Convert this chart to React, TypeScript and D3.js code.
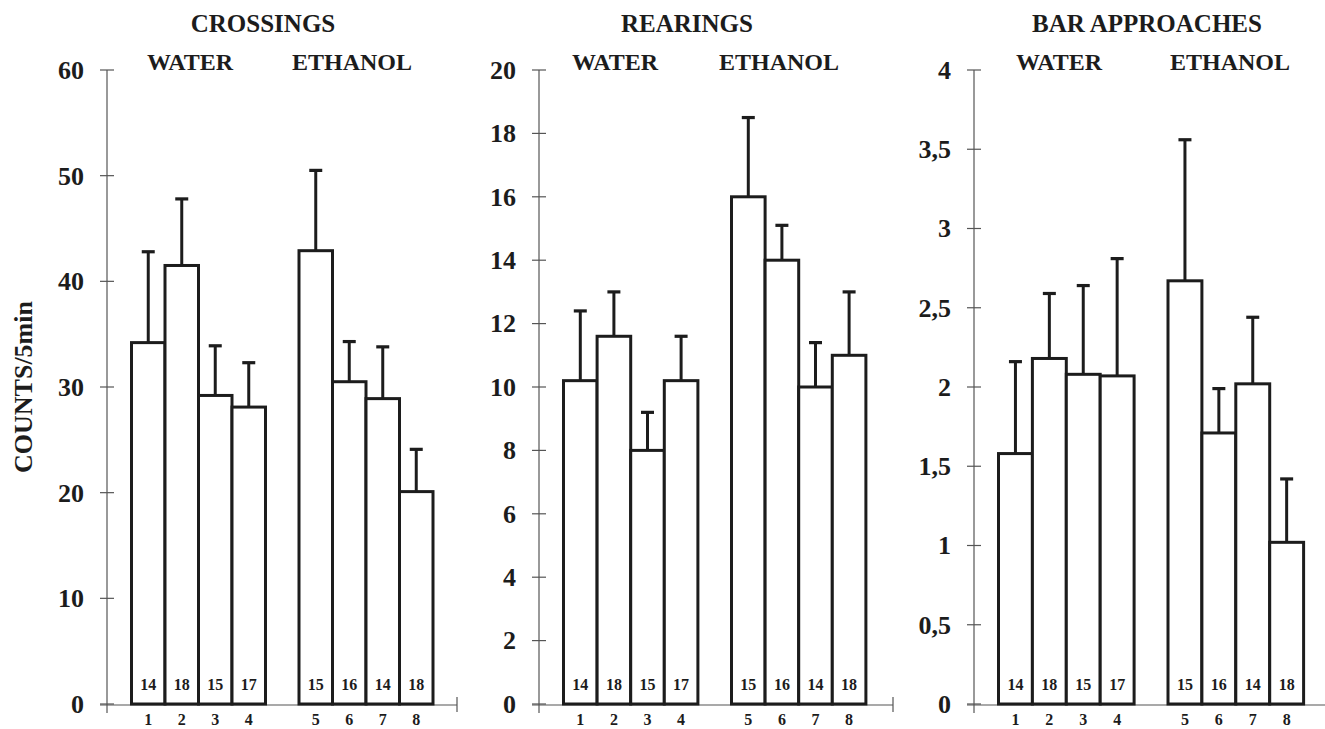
import React from 'react';
import * as d3 from 'd3';

// bar labels under the axis and their slot (slot 4 is the gap between groups)
const groupLabels = ['1', '2', '3', '4', '5', '6', '7', '8'];
const slots = [0, 1, 2, 3, 5, 6, 7, 8];
const nValues = [14, 18, 15, 17, 15, 16, 14, 18];

const crossingsMean = [34.2, 41.5, 29.2, 28.1, 42.9, 30.5, 28.9, 20.1];
const crossingsUpper = [42.8, 47.8, 33.9, 32.3, 50.5, 34.3, 33.8, 24.1];
const crossingsTicks = [0, 10, 20, 30, 40, 50, 60];

const rearingsMean = [10.2, 11.6, 8.0, 10.2, 16.0, 14.0, 10.0, 11.0];
const rearingsUpper = [12.4, 13.0, 9.2, 11.6, 18.5, 15.1, 11.4, 13.0];
const rearingsTicks = [0, 2, 4, 6, 8, 10, 12, 14, 16, 18, 20];

const approachMean = [1.58, 2.18, 2.08, 2.07, 2.67, 1.71, 2.02, 1.02];
const approachUpper = [2.16, 2.59, 2.64, 2.81, 3.56, 1.99, 2.44, 1.42];
const approachTicks = [0, 0.5, 1, 1.5, 2, 2.5, 3, 3.5, 4];

const FONT = '"Liberation Serif", "Times New Roman", serif';
const INK = '#1c1c1c';
const AXIS = '#555';

const Y_TOP = 70;
const Y_BOTTOM = 704;

type PanelProps = {
  axisX: number;
  axisEnd: number;
  title: string;
  titleX: number;
  waterX: number;
  ethanolX: number;
  means: number[];
  uppers: number[];
  ticks: number[];
  step: number;
  fmt: (v: number) => string;
};

const Panel = ({ axisX, axisEnd, title, titleX, waterX, ethanolX, means, uppers, ticks, step, fmt }: PanelProps) => {
  const y = d3.scaleLinear().domain([0, ticks[ticks.length - 1]]).range([Y_BOTTOM, Y_TOP]);
  const start = axisX + 24.5;
  const x = d3.scaleBand<number>().domain(d3.range(9)).range([start, start + 9 * step]).padding(0);
  const bw = x.bandwidth();

  return (
    <g>
      <text x={titleX} y={32} textAnchor="middle" fontFamily={FONT} fontWeight="bold" fontSize={25} fill={INK}>{title}</text>
      <text x={waterX} y={70} textAnchor="middle" fontFamily={FONT} fontWeight="bold" fontSize={24} fill={INK}>WATER</text>
      <text x={ethanolX} y={70} textAnchor="middle" fontFamily={FONT} fontWeight="bold" fontSize={24} fill={INK}>ETHANOL</text>

      {/* axes */}
      <line x1={axisX} x2={axisX} y1={y(ticks[ticks.length - 1])} y2={Y_BOTTOM + 9} stroke={AXIS} strokeWidth={1.2} />
      <line x1={axisX - 7} x2={axisEnd} y1={Y_BOTTOM + 1} y2={Y_BOTTOM + 1} stroke={AXIS} strokeWidth={1.2} />
      <line x1={axisEnd} x2={axisEnd} y1={Y_BOTTOM - 7} y2={Y_BOTTOM + 8} stroke={AXIS} strokeWidth={1.2} />
      {ticks.map((t) => (
        <g key={t}>
          <line x1={axisX - 7} x2={axisX + 7} y1={y(t)} y2={y(t)} stroke={AXIS} strokeWidth={1.2} />
          <text x={axisX - 23} y={y(t)} dy="0.34em" textAnchor="end" fontFamily={FONT} fontWeight="bold" fontSize={26} fill={INK}>{fmt(t)}</text>
        </g>
      ))}

      {/* error bars */}
      {means.map((m, i) => {
        const cx = (x(slots[i]) as number) + bw / 2;
        return (
          <g key={'e' + i}>
            <line x1={cx} x2={cx} y1={y(m)} y2={y(uppers[i])} stroke={INK} strokeWidth={3} />
            <line x1={cx - 6.5} x2={cx + 6.5} y1={y(uppers[i])} y2={y(uppers[i])} stroke={INK} strokeWidth={3.2} />
          </g>
        );
      })}

      {/* bars */}
      {means.map((m, i) => (
        <rect key={'b' + i} x={x(slots[i])} y={y(m)} width={bw} height={Y_BOTTOM - y(m)} fill="#fff" stroke={INK} strokeWidth={3} />
      ))}

      {means.map((m, i) => {
        const cx = (x(slots[i]) as number) + bw / 2;
        return (
          <g key={'l' + i}>
            <text x={cx} y={Y_BOTTOM - 14} textAnchor="middle" fontFamily={FONT} fontWeight="bold" fontSize={16} fill={INK}>{nValues[i]}</text>
            <text x={cx} y={Y_BOTTOM + 21} textAnchor="middle" fontFamily={FONT} fontWeight="bold" fontSize={16} fill={INK}>{groupLabels[i]}</text>
          </g>
        );
      })}
    </g>
  );
};

const commaFmt = (v: number) => String(v).replace('.', ',');

const App = () => {
  return (
    <svg width={1325} height={729} style={{ position: 'absolute', left: 0, top: 0, background: '#fff' }}>
      <rect width={1325} height={729} fill="#fff" />
      <text transform="translate(32,387) rotate(-90)" textAnchor="middle" fontFamily={FONT} fontWeight="bold" fontSize={26} fill={INK}>COUNTS/5min</text>
      <Panel axisX={107} axisEnd={457} title="CROSSINGS" titleX={263} waterX={190} ethanolX={352}
        means={crossingsMean} uppers={crossingsUpper} ticks={crossingsTicks} step={33.5} fmt={(v) => String(v)} />
      <Panel axisX={539} axisEnd={893} title="REARINGS" titleX={687} waterX={615} ethanolX={779}
        means={rearingsMean} uppers={rearingsUpper} ticks={rearingsTicks} step={33.6} fmt={(v) => String(v)} />
      <Panel axisX={974} axisEnd={1330} title="BAR APPROACHES" titleX={1147} waterX={1059} ethanolX={1230}
        means={approachMean} uppers={approachUpper} ticks={approachTicks} step={33.9} fmt={commaFmt} />
    </svg>
  );
};

export default App;
